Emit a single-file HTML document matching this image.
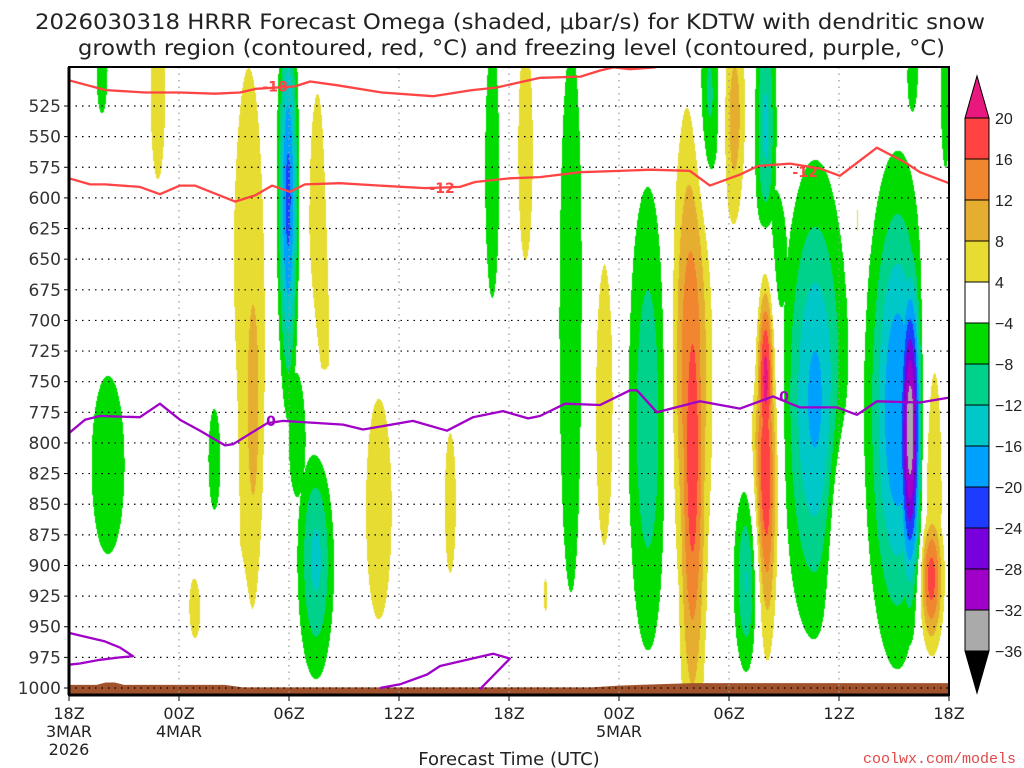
<!DOCTYPE html>
<html><head><meta charset="utf-8"><style>
html,body{margin:0;padding:0;background:#fff;}
#wrap{position:relative;width:1024px;height:768px;overflow:hidden;font-family:"DejaVu Sans","Liberation Sans",sans-serif;}
#field{position:absolute;left:69px;top:67px;}
#svg{position:absolute;left:0;top:0;}
</style></head><body>
<div id="wrap">
<canvas id="field" width="880" height="628"></canvas>
<svg id="svg" width="1024" height="768"></svg>
</div>
<script>
// ---- data ----
const blobHour = [1.8,4.85,2.13,6.9,9.0,8.07,9.8,10.04,11.95,13.5,12.6,13.8,14.85,16.9,20.8,23.1,24.9,27.4,26.0,29.2,31.6,33.9,34.0,34.9,36.3,37.0,38.0,38.0,38.0,40.7,40.3,42.05,43.0,45.2,45.9,47.0,47.0,46.0,47.8,44.7,38.3];
const blobPres = [496,510,818,933,950,812,722,765,602,890,789,643,561,854,849,577,561,700,924,769,780,745,804,520,536,911,826,740,545,765,795,880,624,773,790,830,909,500,520,495,655];
const blobHalfHours = [0.3,0.4,0.9,0.35,0.25,0.55,0.9,0.53,0.7,1.1,0.7,0.75,0.5,0.7,0.3,0.4,0.4,0.65,0.12,0.55,1.15,1.2,0.9,0.6,0.6,0.75,0.8,0.63,0.6,1.9,0.5,0.55,0.12,1.85,0.9,0.7,0.8,0.3,0.25,0.3,0.9];
const blobHalfPres = [35,75,73,28,22,65,228,139,188,110,70,155,90,90,57,106,90,224,16,118,190,227,260,82,90,78,158,115,122,196,49,78,35,212,180,155,70,30,60,15,70];
const blobPeak = [-6,6,-7,5,-5,-6,6,11,-22,-15,-7,6,-6,6,5,-6,5,-7,5,6,-11,16,19,-10,10,-13,20,24,-13,-17,-5,8,5,-20,-36,10,20,-6,-6,5,-7];

const levelEdges = [20,16,12,8,4,-4,-8,-12,-16,-20,-24,-28,-32,-36];
const levelColors = ['#e8187f','#ff4242','#f0862e','#e6ae30','#e6dc32','#ffffff','#00dc00','#00d28c','#00c8c8','#00a0ff','#1e3cff','#7800dc','#a000c8','#aaaaaa','#000000'];

const pTicks = [525,550,575,600,625,650,675,700,725,750,775,800,825,850,875,900,925,950,975,1000];
const xTickHours = [0,6,12,18,24,30,36,42,48];
const xTickLabels = ['18Z','00Z','06Z','12Z','18Z','00Z','06Z','12Z','18Z'];
const xTickSub1 = ['3MAR','4MAR','','','','5MAR','','',''];
const xTickSub2 = ['2026','','','','','','','',''];

const minus18Hours = [0,2.0,4.15,6.05,7.96,9.33,10.2,12.33,13.15,14.6,17.07,19.85,21.98,23.3,25.7,27.9,28.97,29.7,30.6,32];
const minus18Pres = [504,512,514,514,515,514,511,509,505,508,514,517,512,510,502,501,496,493.5,495,493.5];
const minus12Hours = [0,1.15,1.96,3.87,4.96,6.05,6.87,9.06,10.15,11.07,12.05,12.87,14.78,16.96,19.42,21.33,22.15,24.05,25.69,27.87,30.05,31.69,33.87,34.96,36.6,37.58,39.33,40.96,42.05,44.07,45.6,46.42,48];
const minus12Pres = [584,589,589,591,597,590,590,603,598,590,595,589,588,590,592,591,587,584,583,579,578,577,578,590,581,574,572,576,582,559,571,579,588];
const frzHours = [0,0.87,1.69,3.87,4.96,6.05,7.15,8.51,8.95,10.8,11.67,14.95,16.04,18.76,20.62,22.04,23.67,25.04,25.69,27.06,28.97,30.6,30.98,32.07,34.42,36.6,38.4,39.87,41.89,42.98,44.07,46.42,48];
const frzPres = [792,781,778,779,768,781,790,802,801,784,782,785,789,782,790,779,774,780,778,768,769,757,757,775,766,772,762,771,771,777,766,767,763];
const frzLoop1Hours = [0,1.96,2.78,3.49,2.78,1.69,0.6,0];
const frzLoop1Pres = [955,962,967,974,975,977,980,981];
const frzLoop2Hours = [16.96,18.06,19.53,20.24,23.13,24.05,22.42];
const frzLoop2Pres = [1000,997,989,982,972,976,1001];
const sfcHours = [0,1.5,2,2.5,3,8.5,9.5,28.5,30,34,48];
const sfcPres = [997.5,997.5,995.5,995.5,997.5,997.5,999.5,999.5,998,996,996];
const redLabelHours = [11.24,20.35,40.15];
const redLabelPres = [509,592,579];
const redLabelText = ['-18','-12','-12'];
const frzLabelHours = [11.02,39.0];
const frzLabelPres = [782,762];

// ---- axes ----
const X0=69, X1=949, Y0=67, Y1=695;
function xOf(h){return X0 + h*(X1-X0)/48;}
function yOf(p){return 106 + (p-525)*(30.632/25);}
function hOfX(x){return (x-X0)*48/(X1-X0);}
function pOfY(y){return 525 + (y-106)*25/30.632;}

// ---- field ----
(function(){
  const cv=document.getElementById('field');
  const ctx=cv.getContext('2d');
  const W=cv.width,H=cv.height;
  const img=ctx.createImageData(W,H);
  const sh=[],sp=[];
  for(let i=0;i<blobPeak.length;i++){
    const r=Math.sqrt(2*Math.log(Math.abs(blobPeak[i])/4));
    sh.push(blobHalfHours[i]/r); sp.push(blobHalfPres[i]/r);
  }
  const rgb=levelColors.map(c=>[parseInt(c.substr(1,2),16),parseInt(c.substr(3,2),16),parseInt(c.substr(5,2),16)]);
  const pRow=new Float32Array(H); for(let y=0;y<H;y++) pRow[y]=pOfY(y+Y0+0.5);
  const hCol=new Float32Array(W); for(let x=0;x<W;x++) hCol[x]=hOfX(x+X0+0.5);
  for(let y=0;y<H;y++){
    for(let x=0;x<W;x++){
      let vp=0, vn=0;
      const h=hCol[x], p=pRow[y];
      for(let i=0;i<blobPeak.length;i++){
        const dx=(h-blobHour[i])/sh[i]; if(dx>4||dx<-4) continue;
        const dy=(p-blobPres[i])/sp[i]; if(dy>4||dy<-4) continue;
        const v=blobPeak[i]*Math.exp(-0.5*(dx*dx+dy*dy));
        if(v>vp) vp=v; if(v<vn) vn=v;
      }
      const v=vp+vn;
      let k=levelEdges.length;
      for(let j=0;j<levelEdges.length;j++){ if(v>=levelEdges[j]){k=j;break;} }
      const c=rgb[k], o=(y*W+x)*4;
      img.data[o]=c[0];img.data[o+1]=c[1];img.data[o+2]=c[2];img.data[o+3]=255;
    }
  }
  ctx.putImageData(img,0,0);
})();

// ---- svg ----
const NS='http://www.w3.org/2000/svg';
const svg=document.getElementById('svg');
function mk(tag,attrs,parent){const e=document.createElementNS(NS,tag);for(const k in attrs)e.setAttribute(k,attrs[k]);(parent||svg).appendChild(e);return e;}
function txt(s,attrs){const e=mk('text',attrs);e.textContent=s;return e;}

// terrain
let tp='M'+xOf(0)+','+Y1;
for(let i=0;i<sfcHours.length;i++) tp+=' L'+xOf(sfcHours[i]).toFixed(1)+','+yOf(sfcPres[i]).toFixed(1);
tp+=' L'+xOf(48)+','+Y1+' Z';
const terr=mk('path',{d:tp,fill:'#a0522d'});



// grid
for(const p of pTicks){
  const g=mk('line',{x1:X0,x2:X1,y1:yOf(p),y2:yOf(p),stroke:'#000','stroke-width':1.2,'stroke-dasharray':'1.5,5'});
  
  
  mk('line',{x1:X0-5,x2:X0,y1:yOf(p),y2:yOf(p),stroke:'#000','stroke-width':1});
  const t=txt(String(p),{x:61,y:yOf(p)+6,'text-anchor':'end','font-size':17,fill:'#333'});
  
  
}
for(let i=0;i<xTickHours.length;i++){
  const x=xOf(xTickHours[i]);
  if(i>0&&i<xTickHours.length-1){
    const g=mk('line',{x1:x,x2:x,y1:Y0,y2:Y1,stroke:'#999','stroke-width':1.2,'stroke-dasharray':'1.5,5'});
    
    
  }
  mk('line',{x1:x,x2:x,y1:Y1,y2:Y1+6,stroke:'#000','stroke-width':1});
  const t=txt(xTickLabels[i],{x:x,y:719,'text-anchor':'middle','font-size':16,fill:'#222'});
  
  
  if(xTickSub1[i]) txt(xTickSub1[i],{x:x,y:737,'text-anchor':'middle','font-size':16,fill:'#222'});
  if(xTickSub2[i]) txt(xTickSub2[i],{x:x,y:755,'text-anchor':'middle','font-size':16,fill:'#222'});
}

function poly(hs,ps,color,name,w){
  let d='';
  for(let i=0;i<hs.length;i++) d+=(i?' L':'M')+xOf(hs[i]).toFixed(1)+','+yOf(ps[i]).toFixed(1);
  const e=mk('path',{d:d,fill:'none',stroke:color,'stroke-width':w||2.3,'stroke-linejoin':'round'});
  
  
}
poly(minus18Hours,minus18Pres,'#ff4444','contour-minus18');
poly(minus12Hours,minus12Pres,'#ff4444','contour-minus12');
poly(frzHours,frzPres,'#a000c8','freezing-level-contour');
poly(frzLoop1Hours,frzLoop1Pres,'#a000c8','freezing-level-loop-left');
poly(frzLoop2Hours,frzLoop2Pres,'#a000c8','freezing-level-loop-mid');

for(let i=0;i<redLabelHours.length;i++){
  const t=txt(redLabelText[i],{x:xOf(redLabelHours[i]),y:yOf(redLabelPres[i])+5,'text-anchor':'middle','font-size':14,'font-weight':'bold',fill:'#ff4444'});
  
  
}
for(let i=0;i<frzLabelHours.length;i++){
  const t=txt('0',{x:xOf(frzLabelHours[i]),y:yOf(frzLabelPres[i])+5,'text-anchor':'middle','font-size':14,'font-weight':'bold',fill:'#a000c8'});
  
  
}

// frame
const fr=mk('rect',{x:X0,y:Y0,width:X1-X0,height:Y1-Y0,fill:'none',stroke:'#000','stroke-width':2});


mk('line',{x1:X0,x2:X0,y1:Y0,y2:Y1,stroke:'#000','stroke-width':3});
mk('line',{x1:X0,x2:X1,y1:Y1,y2:Y1,stroke:'#000','stroke-width':3});

// colorbar
const cbX=965, cbW=24, cbTop=118, cbStep=41;
const tri1=mk('polygon',{points:(cbX)+','+cbTop+' '+(cbX+cbW)+','+cbTop+' '+(cbX+cbW/2)+','+(cbTop-42),fill:levelColors[0],stroke:'#000','stroke-width':1});


for(let j=1;j<levelEdges.length;j++){
  const r=mk('rect',{x:cbX,y:cbTop+(j-1)*cbStep,width:cbW,height:cbStep,fill:levelColors[j],stroke:'#000','stroke-width':1});
  
  
}
const cbBot=cbTop+(levelEdges.length-1)*cbStep;
const tri2=mk('polygon',{points:cbX+','+cbBot+' '+(cbX+cbW)+','+cbBot+' '+(cbX+cbW/2)+','+(cbBot+42),fill:'#000',stroke:'#000','stroke-width':1});


for(let j=0;j<levelEdges.length;j++){
  const s=levelEdges[j]<0?'\u2212'+Math.abs(levelEdges[j]):String(levelEdges[j]);
  const t=txt(s,{x:995,y:cbTop+j*cbStep+6,'font-size':16,fill:'#222','font-family':'Liberation Sans, sans-serif'});
  
  
}

// titles
const t1=txt('2026030318 HRRR Forecast Omega (shaded, \u03bcbar/s) for KDTW with dendritic snow',{x:35,y:29,'font-size':21,fill:'#222',textLength:950,lengthAdjust:'spacingAndGlyphs'});


const t2=txt('growth region (contoured, red, \u00b0C) and freezing level (contoured, purple, \u00b0C)',{x:78,y:55,'font-size':21,fill:'#222',textLength:867,lengthAdjust:'spacingAndGlyphs'});


const xt=txt('Forecast Time (UTC)',{x:509,y:765,'text-anchor':'middle','font-size':18,fill:'#222'});


const cr=txt('coolwx.com/models',{x:1016,y:763,'text-anchor':'end','font-size':15,fill:'#e04848','font-family':'Liberation Mono, monospace'});


</script>
</body></html>
